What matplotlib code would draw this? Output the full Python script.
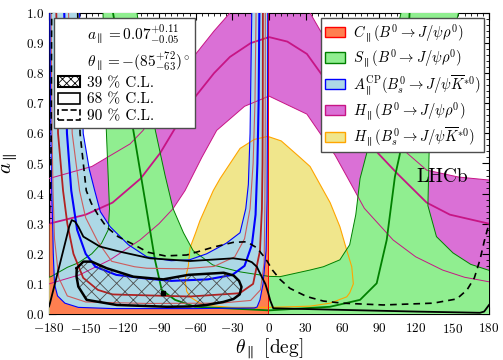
import numpy as np
import matplotlib
matplotlib.use('Agg')
import matplotlib.pyplot as plt
from matplotlib.patches import Patch
from matplotlib.ticker import MultipleLocator

plt.rcParams['font.family'] = 'cmr10'
plt.rcParams['mathtext.fontset'] = 'cm'
plt.rcParams['axes.formatter.use_mathtext'] = True
plt.rcParams['hatch.linewidth'] = 0.6

# H_par(B0 -> J/psi rho0)  (magenta band), points are (theta [deg], a)
h_up_left = [(-180, 0.45), (-145, 0.49), (-113.7, 0.565), (-103, 0.61), (-85, 0.72),
             (-64.6, 0.84), (-45, 0.94), (-32, 1.0)]
h_up_right = [(33.6, 1.0), (55, 0.85), (80, 0.70), (100, 0.58), (129, 0.478),
              (155, 0.455), (180, 0.445)]
h_low = [(-180, 0.10), (-155, 0.13), (-130, 0.18), (-105.5, 0.246), (-90, 0.30), (-78.5, 0.35),
         (-68.7, 0.41), (-55, 0.52), (-42.8, 0.61), (-20, 0.69), (0, 0.724), (31, 0.664),
         (54, 0.528), (66, 0.44), (78, 0.351), (101.5, 0.246), (120, 0.19), (142, 0.146),
         (160, 0.122), (180, 0.107)]
h_mid = [(-180, 0.30), (-150, 0.33), (-128, 0.37), (-105, 0.45), (-89, 0.535), (-64.6, 0.70),
         (-45, 0.80), (-32, 0.854), (-15, 0.90), (0, 0.92), (15, 0.905), (31, 0.864), (60, 0.70),
         (89, 0.535), (104.6, 0.468), (129, 0.37), (148, 0.33), (180, 0.30)]

# H_par(Bs0 -> J/psi K*0)  (yellow band)
y_edge = [(-1, 0.59), (10, 0.575), (25.4, 0.52), (33.6, 0.49), (50, 0.37), (58, 0.29), (63, 0.22),
          (67.7, 0.157), (69, 0.10), (66, 0.07), (63.6, 0.057), (50, 0.036), (33.6, 0.026),
          (0, 0.022), (-30, 0.022), (-50, 0.028), (-56.5, 0.036), (-64, 0.055), (-67.3, 0.075),
          (-68.7, 0.113), (-66, 0.16), (-64.6, 0.22), (-60, 0.27), (-56.5, 0.31), (-45.6, 0.41),
          (-40, 0.45), (-23.7, 0.55), (-12, 0.58), (-1, 0.59)]

# S_par(B0 -> J/psi rho0)  (green band)
s_left_edge = [(-180, 0.122), (-178, 0.125), (-165, 0.155), (-156, 0.17), (-145, 0.2),
               (-137, 0.235), (-131.5, 0.28), (-130.5, 0.35), (-132, 0.5), (-134, 0.7),
               (-135.8, 1.0)]
s_mid_edge = [(-108, 1.0), (-100, 0.78), (-93, 0.61), (-85, 0.46), (-78.5, 0.35), (-70, 0.27),
              (-62, 0.21), (-46, 0.163), (-23.7, 0.14), (0, 0.125), (9, 0.124), (33.5, 0.146),
              (44.5, 0.157), (58, 0.18), (66, 0.23), (71, 0.33), (74.5, 0.45), (80, 0.535),
              (95, 0.78), (108, 1.0)]
s_right_edge = [(155, 1.0), (140, 0.75), (131, 0.535), (130, 0.36), (137, 0.257),
                (150.5, 0.203), (165, 0.165), (180, 0.145)]
s_mid = [(-127.6, 1.0), (-111, 0.61), (-101.5, 0.38), (-93.3, 0.18), (-87.8, 0.08),
         (-76.9, 0.047), (-60.5, 0.024), (0, 0.012), (49.9, 0.024), (74.5, 0.047),
         (88.1, 0.102), (96.3, 0.246), (103, 0.456), (107, 0.53), (112, 0.74), (115, 1.0)]

# C_par(B0 -> J/psi rho0)  (orange band)
c_fill = [(-179.6, 0), (-179.6, 0.30), (-177, 0.30), (-176, 0.1), (-170, 0.05), (-150, 0.04),
          (-20, 0.04), (-6, 0.1), (-4.5, 0.3), (-3, 1.0), (-0.5, 1.0), (-0.5, 0)]
c_red_thick = [(-174, 1.0), (-172.6, 0.6), (-168.5, 0.41), (-165, 0.3), (-160, 0.2), (-152, 0.12),
               (-140, 0.08), (-128, 0.065), (-65, 0.058), (-24, 0.069), (-13, 0.10),
               (-7.4, 0.21), (-5.8, 0.35), (-5.3, 0.5), (-5.1, 0.7), (-5.0, 1.0)]
c_red_thin1 = [(-178.3, 1.0), (-177.5, 0.6), (-176.7, 0.41), (-175.5, 0.25), (-172, 0.12),
               (-165, 0.06), (-150, 0.04), (-100, 0.035), (-40, 0.036), (-15, 0.045),
               (-7, 0.08), (-4, 0.17), (-3.4, 0.35), (-3.1, 0.6), (-3.0, 1.0)]
c_red_thin2 = [(-164, 1.0), (-161, 0.6), (-155, 0.41), (-150, 0.32), (-140, 0.24), (-128.7, 0.175),
               (-110, 0.157), (-100, 0.152), (-70, 0.15), (-45, 0.158), (-28, 0.19), (-20, 0.25),
               (-15.5, 0.35), (-13, 0.5), (-11.5, 0.7), (-10.6, 1.0)]
c_red_edge = [(-0.5, 0), (-0.5, 1.0)]

# A_par^CP(Bs0 -> J/psi K*0)  (blue band)
a_outer = [(-179.3, 1.0), (-178.5, 0.6), (-177.8, 0.41), (-177, 0.3), (-176.5, 0.2),
           (-175.5, 0.1), (-173, 0.06), (-167, 0.036), (-156, 0.022), (-128, 0.018),
           (-60, 0.018), (-12, 0.02), (-9.8, 0.023), (-7.4, 0.047), (-4.9, 0.10), (-2.4, 0.21),
           (-1.6, 0.38), (-1.2, 0.7), (-1.0, 1.0)]
a_inner = [(-155, 1.0), (-152, 0.6), (-147, 0.48), (-142.6, 0.41), (-138, 0.34), (-130, 0.29),
           (-115, 0.23), (-100, 0.19), (-80, 0.177), (-65, 0.18), (-51, 0.2), (-35, 0.235),
           (-23.7, 0.27), (-19, 0.35), (-16.9, 0.43), (-15.5, 0.6), (-14.1, 1.0)]
a_mid = [(-167.5, 1.0), (-165.3, 0.6), (-161.8, 0.41), (-157, 0.28), (-150, 0.2), (-142, 0.157),
         (-125, 0.13), (-101, 0.118), (-80, 0.11), (-50, 0.115), (-30, 0.13), (-20, 0.16),
         (-14, 0.23), (-11, 0.33), (-9.5, 0.5), (-8.5, 0.7), (-7.9, 1.0)]

# confidence level contours
cl39 = [(-157.3, 0.152), (-151.9, 0.174), (-145.1, 0.174), (-132.8, 0.152), (-111, 0.124),
        (-86.5, 0.115), (-66, 0.13), (-45, 0.135), (-37, 0.137), (-29, 0.128), (-24.5, 0.11),
        (-22.5, 0.09), (-24, 0.065), (-29, 0.05), (-37.4, 0.04), (-51, 0.03), (-64.6, 0.025),
        (-83.7, 0.024), (-124.6, 0.03), (-149.2, 0.047), (-156, 0.091), (-157.5, 0.125)]
cl68 = [(180, 0.03), (176, 0.008), (172.6, 0.004), (120.8, 0.008), (66.3, 0.013), (3.5, 0.019),
        (1, 0.045), (-0.6, 0.069), (-3, 0.1), (-6, 0.124), (-10, 0.157), (-14, 0.172),
        (-18.2, 0.179), (-29.2, 0.185), (-64.6, 0.176), (-97.4, 0.185), (-121.9, 0.207),
        (-138.3, 0.224), (-151.9, 0.257), (-156, 0.29), (-158.7, 0.307), (-161.4, 0.312),
        (-163.5, 0.29), (-165.5, 0.257), (-173.7, 0.124), (-179.2, 0.036), (-180, 0.025)]
cl90_a = [(-156.5, 1.0), (-154.6, 0.6), (-149.5, 0.41), (-145.4, 0.368), (-139.9, 0.329),
          (-133.1, 0.29), (-123.5, 0.257), (-109.9, 0.229), (-99, 0.205), (-85, 0.193),
          (-67.3, 0.196), (-45.6, 0.222), (-29.2, 0.238), (-18.2, 0.24), (-10, 0.22),
          (-3, 0.185), (3, 0.145), (9, 0.115), (17.2, 0.085), (30.8, 0.058), (44.4, 0.043),
          (60, 0.036), (93.5, 0.030), (134.4, 0.036), (153.6, 0.05), (162, 0.08), (168, 0.12),
          (172.6, 0.18), (176, 0.24), (180, 0.30)]
cl90_b = [(-180, 0.30), (-178.8, 0.4), (-178.2, 0.6), (-177.8, 1.0)]
best_fit = (-86.5, 0.071)

legend_left_labels = [r'$a_\parallel = 0.07^{+0.11}_{-0.05}$',
                      r'$\theta_\parallel = -(85^{+72}_{-63})^\circ$',
                      '39 % C.L.', '68 % C.L.', '90 % C.L.']
legend_right_labels = [r'$C_\parallel(B^0\to J/\psi\rho^0)$',
                       r'$S_\parallel(B^0\to J/\psi\rho^0)$',
                       r'$A_\parallel^{\mathrm{CP}}(B_s^0\to J/\psi\overline{K}^{*0})$',
                       r'$H_\parallel(B^0\to J/\psi\rho^0)$',
                       r'$H_\parallel(B_s^0\to J/\psi\overline{K}^{*0})$']
xticks = [-180, -150, -120, -90, -60, -30, 0, 30, 60, 90, 120, 150, 180]
yticks = [0.0, 0.1, 0.2, 0.3, 0.4, 0.5, 0.6, 0.7, 0.8, 0.9, 1.0]


def xy(pts):
    arr = np.array(pts, dtype=float)
    return arr[:, 0], arr[:, 1]


fig = plt.figure(figsize=(5.03, 3.6), dpi=100)
ax = fig.add_axes([0.0974, 0.1278, 0.8748, 0.8361])

# filled regions, bottom to top
mag_poly = h_up_left + h_up_right + h_low[::-1]
ax.fill(*xy(mag_poly), color='orchid', lw=0, zorder=1)
ax.fill(*xy(y_edge), color='khaki', lw=0, zorder=2)
green_poly = [(-180, 0)] + s_left_edge + s_mid_edge + s_right_edge + [(180, 0)]
ax.fill(*xy(green_poly), color='lightgreen', lw=0, zorder=3)
ax.fill(*xy(c_fill), color='coral', lw=0, zorder=4)
blue_poly = a_outer + a_inner[::-1]
ax.fill(*xy(blue_poly), color='lightblue', lw=0, zorder=5)

# band lines
ax.plot(*xy(y_edge), color='orange', lw=0.8, zorder=6)
ax.plot(*xy(h_low), color='mediumvioletred', lw=0.7, zorder=6)
ax.plot(*xy(h_up_left), color='mediumvioletred', lw=0.7, zorder=6)
ax.plot(*xy(h_up_right), color='mediumvioletred', lw=0.7, zorder=6)
ax.plot(*xy(h_mid), color='mediumvioletred', lw=1.3, zorder=6)
for edge in (s_left_edge, s_mid_edge, s_right_edge):
    ax.plot(*xy(edge), color='green', lw=0.7, zorder=6)
ax.plot(*xy(s_mid), color='green', lw=1.3, zorder=6)
ax.plot(*xy(c_red_thin1), color='indianred', lw=0.8, zorder=7)
ax.plot(*xy(c_red_thin2), color='indianred', lw=0.8, zorder=7)
ax.plot(*xy(c_red_edge), color='red', lw=0.7, zorder=7)
ax.plot(*xy(c_red_thick), color='firebrick', lw=1.3, zorder=7)
ax.plot(*xy(a_outer), color='blue', lw=0.8, zorder=7)
ax.plot(*xy(a_inner), color='blue', lw=0.8, zorder=7)
ax.plot(*xy(a_mid), color='blue', lw=1.5, zorder=7)

# confidence regions
ax.fill(*xy(cl39), facecolor='none', edgecolor='0.3', hatch='xx', lw=0, zorder=9)
ax.plot(*xy(cl39 + cl39[:1]), color='black', lw=1.8, zorder=10)
ax.plot(*xy(cl68), color='black', lw=1.3, zorder=10)
ax.plot(*xy(cl90_a), color='black', lw=1.2, ls=(0, (4, 3)), zorder=10)
ax.plot(*xy(cl90_b), color='black', lw=1.2, ls=(0, (4, 3)), zorder=10)
ax.plot([best_fit[0]], [best_fit[1]], 's', color='black', ms=3, zorder=11)

ax.text(120.5, 0.455, 'LHCb', fontsize=14, ha='left', va='center', zorder=12)

# axes
ax.set_xlim(-180, 180)
ax.set_ylim(0, 1)
ax.set_xticks(xticks)
ax.set_xticklabels(['$%d$' % v for v in xticks], fontsize=9.5)
ax.set_yticks(yticks)
ax.set_yticklabels(['$%.1f$' % v for v in yticks], fontsize=9.5)
ax.xaxis.set_minor_locator(MultipleLocator(5))
ax.yaxis.set_minor_locator(MultipleLocator(0.02))
ax.tick_params(which='both', direction='in', top=True, right=True)
ax.tick_params(which='major', length=5)
ax.tick_params(which='minor', length=2.5)
ax.tick_params(axis='x', which='major', pad=5.5)
ax.tick_params(axis='y', which='major', pad=3.5)
ax.set_xlabel(r'$\theta_\parallel$ [deg]', fontsize=14)
ax.set_ylabel(r'$a_\parallel$', fontsize=15)
ax.xaxis.set_label_coords(0.5, -0.075)
ax.yaxis.set_label_coords(-0.065, 0.5)

# legends
left_handles = [Patch(visible=False), Patch(visible=False),
                Patch(facecolor='white', edgecolor='black', hatch='xxxx', lw=1.5),
                Patch(facecolor='white', edgecolor='black', lw=1.2),
                Patch(facecolor='white', edgecolor='black', lw=1.2, ls='--')]
leg1 = ax.legend(left_handles, legend_left_labels, loc='upper left', bbox_to_anchor=(0.0, 1.0),
                 fontsize=11, fancybox=False, framealpha=1, edgecolor='0.3',
                 handlelength=1.4, handletextpad=0.5, labelspacing=0.2, borderaxespad=0.3,
                 borderpad=0.3)
leg1.set_zorder(20)
ax.add_artist(leg1)

right_handles = [Patch(facecolor='coral', edgecolor='red'),
                 Patch(facecolor='lightgreen', edgecolor='green'),
                 Patch(facecolor='lightblue', edgecolor='blue'),
                 Patch(facecolor='orchid', edgecolor='mediumvioletred'),
                 Patch(facecolor='khaki', edgecolor='orange')]
leg2 = ax.legend(right_handles, legend_right_labels, loc='upper right', bbox_to_anchor=(1.0, 1.0),
                 fontsize=10.5, fancybox=False, framealpha=1, edgecolor='0.3',
                 handlelength=1.4, handletextpad=0.5, labelspacing=0.25, borderaxespad=0.35,
                 borderpad=0.25)
leg2.set_zorder(20)

fig.savefig('out.png', dpi=100)
